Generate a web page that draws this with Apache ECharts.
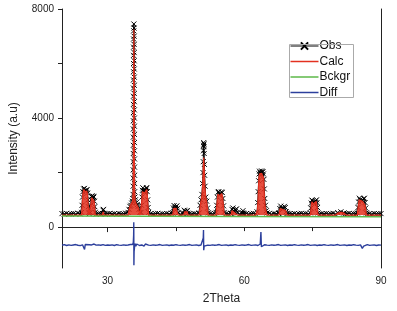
<!DOCTYPE html>
<html><head><meta charset="utf-8">
<script src="https://cdn.jsdelivr.net/npm/echarts@6/dist/echarts.min.js"></script>
<style>html,body{margin:0;padding:0;background:#fff}#c{width:397px;height:311px}</style>
</head><body><div id="c"></div>
<script>
// ---- data ----
const xStart = 20, xStep = 0.5;
const xTicks = [30, 45, 60, 75, 90];
const xLabels = [30, 60, 90];
const yTicks = [0, 2000, 4000, 6000, 8000];
const yLabels = [0, 4000, 8000];

// observed baseline every 0.5 deg from 20 to 90
const obsBase = [
495,480,505,470,490,500,475,510,485,495,470,500,490,480,505,475,495,485,500,470,
490,505,480,495,470,500,485,490,510,475,495,480,500,470,490,505,485,495,475,500,
480,495,505,470,490,485,500,475,510,490,480,495,470,500,485,505,490,475,495,480,
500,470,490,505,485,495,480,500,475,490,505,470,495,485,500,480,490,510,475,495,
485,500,470,490,505,480,495,475,500,490,485,505,470,495,480,500,490,475,505,485,
495,480,500,470,490,505,485,495,475,500,480,490,510,470,495,485,500,480,490,505,
475,495,485,500,470,490,505,480,495,485,500,475,490,510,480,495,470,500,485,490,
495];
// difference baseline every 0.5 deg
const diffBase = [
-660,-645,-675,-650,-670,-655,-640,-665,-680,-650,-660,-670,-645,-655,-675,-660,-650,-665,-640,-670,
-655,-665,-650,-675,-645,-660,-670,-650,-665,-655,-640,-670,-660,-650,-675,-655,-665,-645,-660,-670,
-650,-665,-655,-640,-670,-660,-650,-675,-655,-665,-645,-660,-670,-650,-665,-655,-640,-670,-660,-650,
-675,-655,-665,-645,-660,-670,-650,-665,-655,-640,-670,-660,-650,-675,-655,-665,-645,-660,-670,-650,
-665,-655,-640,-670,-660,-650,-675,-655,-665,-645,-660,-670,-650,-665,-655,-640,-670,-660,-650,-675,
-655,-665,-645,-660,-670,-650,-665,-655,-640,-670,-660,-650,-675,-655,-665,-645,-660,-670,-650,-665,
-655,-640,-670,-660,-650,-675,-655,-665,-645,-660,-670,-650,-665,-655,-640,-670,-660,-650,-675,-655,
-660];

const obsP25 = [[24.3,540],[24.4,800],[24.5,1100],[24.6,1300],[24.75,1400],[24.9,1420],[25.05,1330],[25.2,1300],[25.35,1350],[25.5,1380],[25.6,1250],[25.7,1000],[25.8,750],[25.9,540]];
const obsP27 = [[26.2,540],[26.3,800],[26.4,1000],[26.5,1120],[26.6,1150],[26.75,1080],[26.9,1130],[27.0,1100],[27.1,950],[27.2,750],[27.3,540]];
const obsP29 = [[28.85,500],[29.0,620],[29.1,650],[29.25,500]];
const obsP36 = [[34.5,540],[34.7,650],[34.9,760],[35.1,800],[35.3,880],[35.45,950],[35.55,1050],[35.6,1200],
 [35.61,1500],[35.62,1800],[35.63,2100],[35.64,2400],[35.645,2700],[35.65,3000],[35.655,3300],[35.66,3600],[35.665,3900],[35.67,4200],
 [35.675,4500],[35.68,4800],[35.685,5100],[35.69,5400],[35.695,5700],[35.7,6000],[35.705,6300],[35.71,6600],[35.72,6900],[35.74,7200],[35.77,7450],
 [35.8,7300],[35.82,7000],[35.83,6700],[35.835,6400],[35.84,6100],[35.845,5800],[35.85,5500],[35.855,5200],[35.86,4900],[35.865,4600],
 [35.87,4300],[35.875,4000],[35.88,3700],[35.885,3400],[35.89,3100],[35.895,2800],[35.9,2500],[35.91,2200],[35.92,1900],[35.93,1600],
 [35.95,1300],[36.0,1100],[36.1,1000],[36.3,900],[36.5,820],[36.7,760],[36.9,650],[37.1,540]];
const obsP38 = [[37.35,540],[37.45,800],[37.55,1100],[37.65,1350],[37.75,1440],[37.9,1330],[38.05,1280],[38.2,1300],[38.35,1350],[38.5,1420],[38.6,1450],[38.7,1300],[38.8,1000],[38.9,720],[39.0,540]];
const obsP45 = [[44.3,520],[44.45,700],[44.6,790],[44.8,720],[45.0,740],[45.2,780],[45.35,690],[45.5,520]];
const obsP47 = [[46.7,510],[46.85,620],[47.0,580],[47.3,560],[47.5,610],[47.65,510]];
const obsP51 = [[50.1,520],[50.3,800],[50.5,1000],[50.7,1200],[50.85,1600],[50.95,2000],[51.0,2400],[51.05,2800],[51.08,3000],[51.1,3100],[51.13,2950],[51.15,3050],[51.2,2700],[51.25,2300],[51.3,1900],[51.4,1500],[51.55,1100],[51.75,950],[51.95,700],[52.1,520]];
const obsP55 = [[53.8,540],[53.95,800],[54.1,1100],[54.25,1280],[54.4,1300],[54.6,1200],[54.8,1220],[55.0,1290],[55.15,1270],[55.3,1050],[55.45,780],[55.6,540]];
const obsP58 = [[57.1,510],[57.3,650],[57.5,700],[57.7,600],[57.9,560],[58.1,640],[58.3,670],[58.5,520]];
const obsP60 = [[59.6,520],[59.7,600],[59.8,510]];
const obsP64 = [[62.8,560],[62.95,900],[63.05,1300],[63.15,1700],[63.25,1950],[63.35,2050],[63.5,1980],[63.65,2000],[63.8,2060],[63.95,2010],[64.1,2040],[64.2,1950],[64.3,1750],[64.4,1400],[64.5,1050],[64.65,800],[64.85,600],[65.0,520]];
const obsP68 = [[67.6,520],[67.8,680],[68.0,770],[68.2,700],[68.5,680],[68.8,760],[69.0,720],[69.2,560],[69.4,510]];
const obsP75 = [[74.5,520],[74.6,700],[74.7,880],[74.85,990],[75.0,960],[75.2,900],[75.4,920],[75.6,960],[75.85,1000],[75.95,900],[76.05,720],[76.2,520]];
const obsP81 = [[80.5,530],[81.2,560],[81.9,520]];
const obsP86 = [[84.8,520],[84.95,720],[85.1,920],[85.25,1060],[85.45,1000],[85.7,950],[85.95,980],[86.2,1040],[86.35,1060],[86.5,900],[86.65,700],[86.8,520]];

const calcLevel = 440;
const calcP25 = [[24.3,440],[24.45,900],[24.6,1250],[24.8,1380],[25.0,1300],[25.2,1250],[25.45,1320],[25.6,1200],[25.75,800],[25.9,440]];
const calcP27 = [[26.2,440],[26.35,850],[26.5,1080],[26.7,1060],[26.9,1080],[27.05,950],[27.2,700],[27.3,440]];
const calcP29 = [[28.85,440],[29.05,560],[29.25,440]];
const calcP36 = [[34.5,440],[34.8,700],[35.0,800],[35.3,850],[35.5,950],[35.62,1400],[35.68,3200],[35.72,5800],[35.77,7250],[35.82,5800],[35.86,3200],[35.92,1400],[36.05,950],[36.3,850],[36.6,800],[36.8,700],[37.1,440]];
const calcP38 = [[37.35,440],[37.5,950],[37.65,1300],[37.8,1350],[38.1,1250],[38.4,1300],[38.6,1380],[38.75,1100],[38.9,700],[39.0,440]];
const calcP45 = [[44.3,440],[44.5,680],[44.65,740],[45.0,690],[45.2,730],[45.4,640],[45.5,440]];
const calcP47 = [[46.7,440],[46.9,560],[47.2,500],[47.5,560],[47.65,440]];
const calcP51 = [[50.1,440],[50.4,850],[50.7,1150],[50.9,1600],[51.0,2200],[51.1,2550],[51.2,2200],[51.3,1600],[51.5,1150],[51.8,850],[52.1,440]];
const calcP55 = [[53.8,440],[54.0,850],[54.2,1200],[54.4,1250],[54.7,1150],[55.0,1230],[55.2,1150],[55.4,800],[55.6,440]];
const calcP58 = [[57.1,440],[57.3,600],[57.5,640],[57.8,540],[58.2,600],[58.5,440]];
const calcP64 = [[62.5,440],[62.9,650],[63.05,1100],[63.2,1800],[63.35,1950],[63.6,1920],[63.8,1970],[64.05,1950],[64.25,1800],[64.4,1150],[64.6,700],[65.0,440]];
const calcP68 = [[67.6,440],[67.85,680],[68.05,720],[68.5,640],[68.85,710],[69.1,600],[69.4,440]];
const calcP75 = [[74.5,440],[74.65,700],[74.85,930],[75.1,850],[75.4,870],[75.8,940],[76.0,700],[76.2,440]];
const calcP81 = [[80.0,440],[80.5,510],[81.2,540],[81.9,510],[82.4,440]];
const calcP86 = [[84.8,440],[85.0,750],[85.2,1000],[85.5,940],[85.9,950],[86.3,1000],[86.5,800],[86.8,440]];

const bckgr = [[20,410],[40,400],[60,390],[90,378]];

const diffP25 = [[24.8,-700],[24.95,-820],[25.1,-640]];
const diffP27 = [[26.9,-720],[27.05,-620]];
const diffP36 = [[35.5,-640],[35.65,-560],[35.72,-300],[35.75,180],[35.78,-1400],[35.82,-900],[35.9,-760],[36.0,-600],[36.2,-700],[36.4,-620]];
const diffP38 = [[38.0,-700],[38.3,-620]];
const diffP51 = [[50.9,-620],[51.0,-400],[51.05,-110],[51.1,-850],[51.2,-700],[51.4,-640]];
const diffP64 = [[63.5,-620],[63.65,-180],[63.75,-720],[63.9,-650]];
const diffP75 = [[75.3,-700]];
const diffP86 = [[85.6,-720],[85.9,-780],[86.2,-700]];

// ---- build series tables ----
function merge(base, peaks) {
  const pts = [];
  base.forEach((v, i) => {
    const x = xStart + i * xStep;
    if (!peaks.some(p => x >= p[0][0] && x <= p[p.length - 1][0])) pts.push([x, v]);
  });
  peaks.forEach(p => p.forEach(q => pts.push(q)));
  pts.sort((a, b) => a[0] - b[0]);
  return pts;
}
const obs = merge(obsBase, [obsP25,obsP27,obsP29,obsP36,obsP38,obsP45,obsP47,obsP51,obsP55,obsP58,obsP60,obsP64,obsP68,obsP75,obsP81,obsP86]);
const calcPeaks = [calcP25,calcP27,calcP29,calcP36,calcP38,calcP45,calcP47,calcP51,calcP55,calcP58,calcP64,calcP68,calcP75,calcP81,calcP86];
const calc = [[xStart, calcLevel], [90, calcLevel]];
calcPeaks.forEach(p => p.forEach(q => calc.push(q)));
calc.sort((a, b) => a[0] - b[0]);
const diff = merge(diffBase, [diffP25,diffP27,diffP36,diffP38,diffP51,diffP64,diffP75,diffP86]);

const FONT = 'Liberation Sans, Arial, sans-serif';
const LINE_ICON = 'path://M0,0L30,0L30,1.6L0,1.6Z';
const chart = echarts.init(document.getElementById('c'), null, {renderer: 'canvas'});
chart.setOption({
  animation: false,
  backgroundColor: '#fff',
  textStyle: {fontFamily: FONT},
  grid: {left: 62, right: 16, top: 9, bottom: 43},
  graphic: [{type: 'rect', shape: {x: 289.5, y: 44.5, width: 64, height: 53}, style: {fill: 'none', stroke: '#aaa', lineWidth: 1}, z: 10}],
  legend: {
    orient: 'vertical', left: 290, top: 39, padding: 0, itemGap: 1.5,
    itemWidth: 28, itemHeight: 9,
    textStyle: {fontSize: 12, color: '#111', fontFamily: FONT, padding: [0,0,0,-4], lineHeight: 14},
    data: [
      {name: 'Obs', lineStyle: {width: 1, color: '#000'}},
      {name: 'Calc', icon: LINE_ICON},
      {name: 'Bckgr', icon: LINE_ICON},
      {name: 'Diff', icon: LINE_ICON}
    ]
  },
  xAxis: [{
    type: 'value', min: 20, max: 90, position: 'bottom',
    name: '2Theta', nameLocation: 'middle', nameGap: 25,
    nameTextStyle: {fontSize: 12, color: '#222', fontFamily: FONT},
    axisLine: {show: true, lineStyle: {color: '#222', width: 1}},
    axisTick: {show: true, length: 4, customValues: xTicks, lineStyle: {color: '#222'}},
    axisLabel: {customValues: xLabels, fontSize: 10, color: '#222', margin: 8, fontFamily: FONT, formatter: v => String(v)},
    splitLine: {show: false}
  }, {
    type: 'value', min: 20, max: 90, position: 'top',
    axisLine: {show: true, lineStyle: {color: '#222', width: 1}},
    axisTick: {show: true, inside: true, length: 5, customValues: [30], lineStyle: {color: '#222'}},
    axisLabel: {show: false}, splitLine: {show: false}
  }],
  yAxis: [{
    type: 'value', min: -1500, max: 8000, position: 'left',
    name: 'Intensity (a.u)', nameLocation: 'middle', nameGap: 42, nameRotate: 90,
    nameTextStyle: {fontSize: 12, color: '#222', fontFamily: FONT},
    axisLine: {show: true, lineStyle: {color: '#222', width: 1}},
    axisTick: {show: true, length: 4, customValues: yTicks, lineStyle: {color: '#222'}},
    axisLabel: {customValues: yLabels, fontSize: 10, color: '#222', margin: 8, fontFamily: FONT, formatter: v => String(v)},
    splitLine: {show: false}
  }, {
    type: 'value', min: -1500, max: 8000, position: 'right',
    axisLine: {show: true, lineStyle: {color: '#222', width: 1}},
    axisTick: {show: false}, axisLabel: {show: false}, splitLine: {show: false}
  }],
  series: [{
    name: 'Obs', type: 'line', data: obs, showAllSymbol: true,
    symbol: 'path://M0,0L10,10M10,0L0,10', symbolSize: 5,
    itemStyle: {color: '#000', borderColor: '#000', borderWidth: 1},
    lineStyle: {color: '#000', width: 1}, z: 2
  }, {
    name: 'Calc', type: 'line', data: calc, symbol: 'none',
    lineStyle: {color: '#e3301f', width: 1.2}, itemStyle: {color: '#e3301f'},
    areaStyle: {color: '#e3301f', origin: calcLevel, opacity: 0.85}, z: 3
  }, {
    name: 'Bckgr', type: 'line', data: bckgr, symbol: 'none',
    lineStyle: {color: '#5cb848', width: 1.6}, itemStyle: {color: '#5cb848'}, z: 4
  }, {
    name: 'Diff', type: 'line', data: diff, symbol: 'none',
    lineStyle: {color: '#2c3f9c', width: 1.4}, itemStyle: {color: '#2c3f9c'}, z: 4
  }]
});
</script></body></html>
